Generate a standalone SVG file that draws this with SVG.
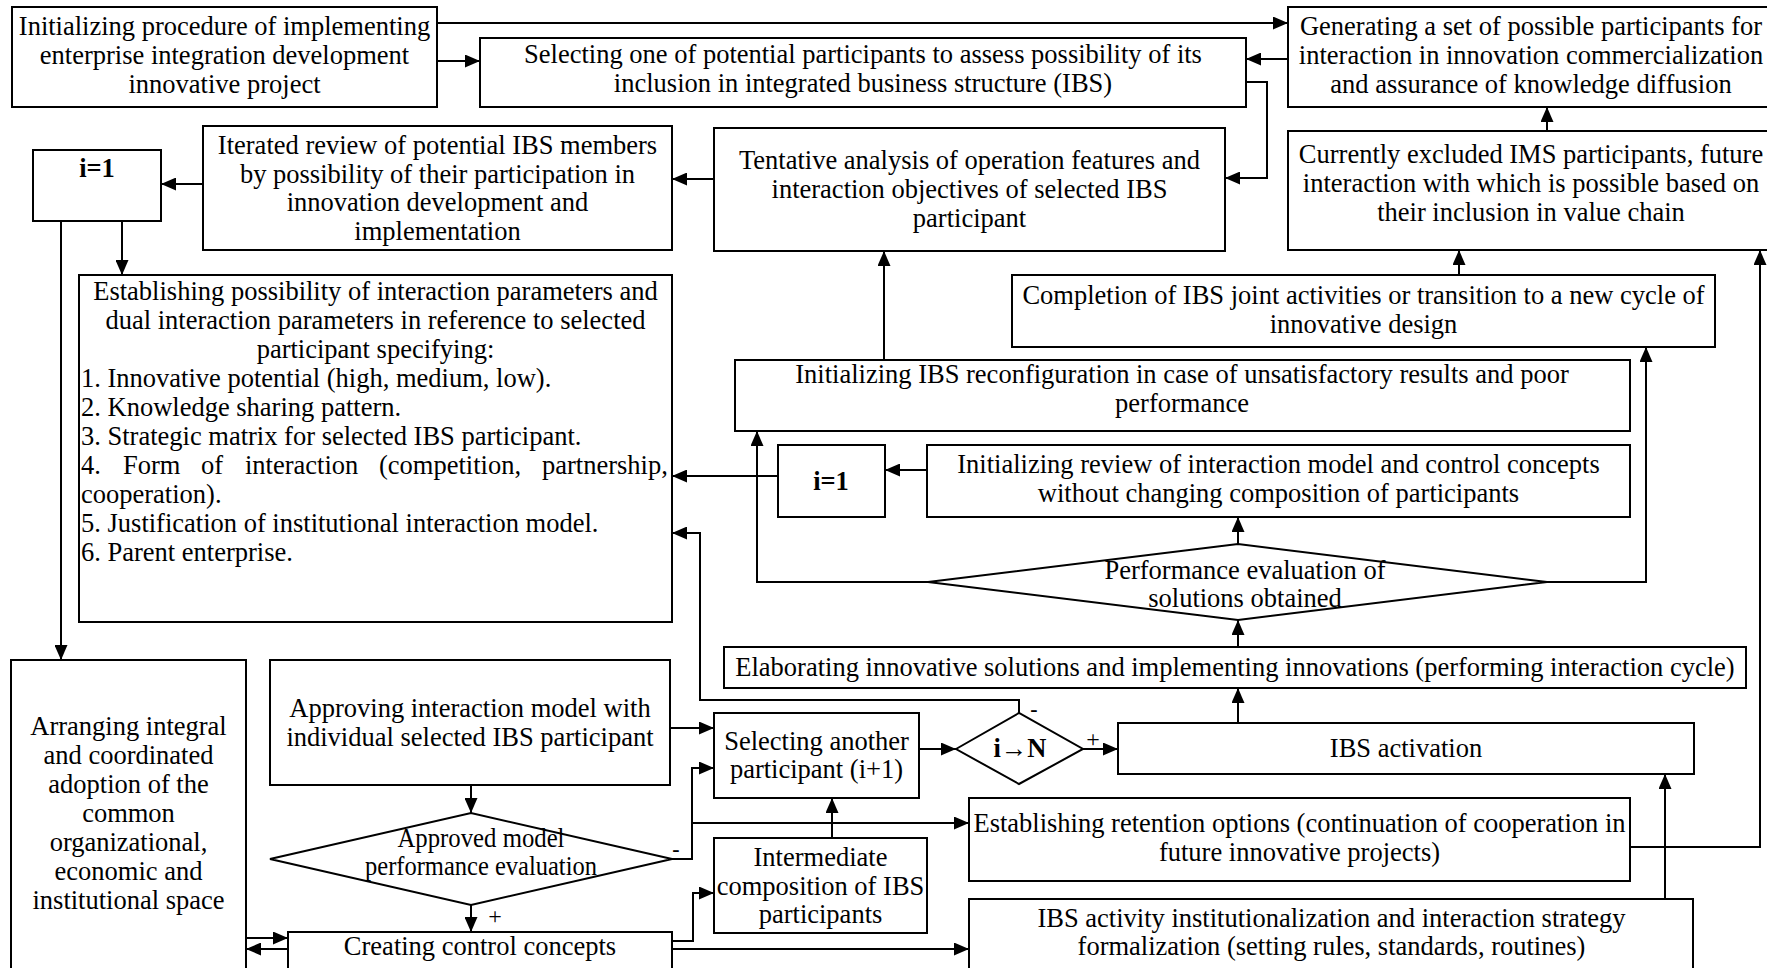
<svg xmlns="http://www.w3.org/2000/svg" width="1767" height="968" viewBox="0 0 1767 968">
<style>
.b{fill:#fff;stroke:#000;stroke-width:2}
.c{fill:none;stroke:#000;stroke-width:2;marker-end:url(#ah)}
.l{fill:none;stroke:#000;stroke-width:2}
text{font-family:"Liberation Serif","Times New Roman",serif;font-size:26.5px;fill:#000}
.m{text-anchor:middle}
.bd{font-weight:bold}
</style>
<defs>
<marker id="ah" markerUnits="userSpaceOnUse" markerWidth="15" markerHeight="13" refX="15" refY="6.5" orient="auto">
<path d="M0,0 L15,6.5 L0,13 z" fill="#000"/>
</marker>
</defs>
<rect width="1767" height="968" fill="#fff"/>
<g id="connectors">
<path class="c" d="M437,23 H1288"/>
<path class="c" d="M437,61 H480"/>
<path class="c" d="M1288,59 H1246"/>
<path class="c" d="M1246,82 H1267 V178 H1225"/>
<path class="c" d="M714,179 H672"/>
<path class="c" d="M203,184 H161"/>
<path class="c" d="M61,221 V660"/>
<path class="c" d="M122,221 V275"/>
<path class="c" d="M884,360 V251"/>
<path class="c" d="M1459,275 V250"/>
<path class="c" d="M1547,131 V107"/>
<path class="c" d="M1630,847 H1760 V250"/>
<path class="c" d="M1547,582 H1646 V347"/>
<path class="c" d="M928,582 H757 V431"/>
<path class="c" d="M1238,544 V517"/>
<path class="c" d="M927,470 H885"/>
<path class="c" d="M778,476 H672"/>
<path class="c" d="M1238,647 V620"/>
<path class="c" d="M1238,723 V688"/>
<path class="c" d="M1019,713 V700 H700 V533 H672"/>
<path class="c" d="M919,749 H956"/>
<path class="c" d="M1083,749 H1118"/>
<path class="c" d="M670,728 H714"/>
<path class="c" d="M672,859 H692 V768 H714"/>
<path class="c" d="M692,823 H969"/>
<path class="c" d="M832,838 V798"/>
<path class="c" d="M471,785 V813"/>
<path class="c" d="M471,905 V932"/>
<path class="c" d="M246,938 H288"/>
<path class="c" d="M288,949 H246"/>
<path class="c" d="M672,941 H693 V893 H714"/>
<path class="c" d="M672,949 H969"/>
<path class="c" d="M1665,899 V774"/>
<text x="676" y="856" class="m bd" style="font-size:22px">-</text>
<text x="495" y="924" class="m" style="font-size:24px">+</text>
<text x="1034" y="716" class="m bd" style="font-size:22px">-</text>
<text x="1093" y="747" class="m" style="font-size:24px">+</text>
</g>
<g id="n-init">
<rect class="b" x="12" y="7" width="425" height="100"/>
<text class="m" x="224.5" y="35">Initializing procedure of implementing</text>
<text class="m" x="224.5" y="64">enterprise integration development</text>
<text class="m" x="224.5" y="93">innovative project</text>
</g>
<g id="n-select">
<rect class="b" x="480" y="38" width="766" height="69"/>
<text class="m" x="863" y="63">Selecting one of potential participants to assess possibility of its</text>
<text class="m" x="863" y="92">inclusion in integrated business structure (IBS)</text>
</g>
<g id="n-generate">
<rect class="b" x="1288" y="7" width="490" height="100"/>
<text class="m" x="1531" y="35">Generating a set of possible participants for</text>
<text class="m" x="1531" y="64">interaction in innovation commercialization</text>
<text class="m" x="1531" y="93">and assurance of knowledge diffusion</text>
</g>
<g id="n-iterated">
<rect class="b" x="203" y="126" width="469" height="124"/>
<text class="m" x="437.5" y="154">Iterated review of potential IBS members</text>
<text class="m" x="437.5" y="183">by possibility of their participation in</text>
<text class="m" x="437.5" y="211">innovation development and</text>
<text class="m" x="437.5" y="240">implementation</text>
</g>
<g id="n-i1a">
<rect class="b" x="33" y="150" width="128" height="71"/>
<text class="m bd" x="97" y="177">i=1</text>
</g>
<g id="n-tentative">
<rect class="b" x="714" y="128" width="511" height="123"/>
<text class="m" x="969.5" y="169">Tentative analysis of operation features and</text>
<text class="m" x="969.5" y="198">interaction objectives of selected IBS</text>
<text class="m" x="969.5" y="227">participant</text>
</g>
<g id="n-excluded">
<rect class="b" x="1288" y="131" width="490" height="119"/>
<text class="m" x="1531" y="163">Currently excluded IMS participants, future</text>
<text class="m" x="1531" y="192">interaction with which is possible based on</text>
<text class="m" x="1531" y="221">their inclusion in value chain</text>
</g>
<g id="n-establish">
<rect class="b" x="79" y="275" width="593" height="347"/>
<text class="m" x="375.5" y="300">Establishing possibility of interaction parameters and</text>
<text class="m" x="375.5" y="329">dual interaction parameters in reference to selected</text>
<text class="m" x="375.5" y="358">participant specifying:</text>
<text x="81" y="387">1. Innovative potential (high, medium, low).</text>
<text x="81" y="416">2. Knowledge sharing pattern.</text>
<text x="81" y="445">3. Strategic matrix for selected IBS participant.</text>
<text y="474"><tspan x="81">4.</tspan><tspan x="123">Form</tspan><tspan x="201">of</tspan><tspan x="245">interaction</tspan><tspan x="379">(competition,</tspan><tspan x="542">partnership,</tspan></text>
<text x="81" y="503">cooperation).</text>
<text x="81" y="532">5. Justification of institutional interaction model.</text>
<text x="81" y="561">6. Parent enterprise.</text>
</g>
<g id="n-completion">
<rect class="b" x="1012" y="275" width="703" height="72"/>
<text class="m" x="1363.5" y="304">Completion of IBS joint activities or transition to a new cycle of</text>
<text class="m" x="1363.5" y="333">innovative design</text>
</g>
<g id="n-reconf">
<rect class="b" x="735" y="360" width="895" height="71"/>
<text class="m" x="1182" y="383">Initializing IBS reconfiguration in case of unsatisfactory results and poor</text>
<text class="m" x="1182" y="412">performance</text>
</g>
<g id="n-i1b">
<rect class="b" x="778" y="445" width="107" height="72"/>
<text class="m bd" x="831" y="490">i=1</text>
</g>
<g id="n-review">
<rect class="b" x="927" y="445" width="703" height="72"/>
<text class="m" x="1278.5" y="473">Initializing review of interaction model and control concepts</text>
<text class="m" x="1278.5" y="502">without changing composition of participants</text>
</g>
<g id="n-perf">
<polygon class="b" points="928,582 1238,544 1547,582 1238,620"/>
<text class="m" x="1245" y="579">Performance evaluation of</text>
<text class="m" x="1245" y="607">solutions obtained</text>
</g>
<g id="n-elab">
<rect class="b" x="724" y="647" width="1022" height="41"/>
<text class="m" x="1235" y="676">Elaborating innovative solutions and implementing innovations (performing interaction cycle)</text>
</g>
<g id="n-arrange">
<rect class="b" x="11" y="660" width="235" height="330"/>
<text class="m" x="128.5" y="735">Arranging integral</text>
<text class="m" x="128.5" y="764">and coordinated</text>
<text class="m" x="128.5" y="793">adoption of the</text>
<text class="m" x="128.5" y="822">common</text>
<text class="m" x="128.5" y="851">organizational,</text>
<text class="m" x="128.5" y="880">economic and</text>
<text class="m" x="128.5" y="909">institutional space</text>
</g>
<g id="n-approve">
<rect class="b" x="270" y="660" width="400" height="125"/>
<text class="m" x="470" y="717">Approving interaction model with</text>
<text class="m" x="470" y="746">individual selected IBS participant</text>
</g>
<g id="n-selanother">
<rect class="b" x="714" y="713" width="205" height="85"/>
<text class="m" x="816.5" y="750">Selecting another</text>
<text class="m" x="816.5" y="778">participant (i+1)</text>
</g>
<g id="n-iN">
<polygon class="b" points="956,749 1019,713 1083,749 1019,784"/>
<text class="m bd" x="1020" y="757">i→N</text>
</g>
<g id="n-activation">
<rect class="b" x="1118" y="723" width="576" height="51"/>
<text class="m" x="1406" y="757">IBS activation</text>
</g>
<g id="n-retention">
<rect class="b" x="969" y="798" width="661" height="83"/>
<text class="m" x="1299.5" y="832">Establishing retention options (continuation of cooperation in</text>
<text class="m" x="1299.5" y="861">future innovative projects)</text>
</g>
<g id="n-approved">
<polygon class="b" points="270,859 471,813 672,859 471,905"/>
<text class="m" x="481" y="847" textLength="167" lengthAdjust="spacingAndGlyphs">Approved model</text>
<text class="m" x="481" y="875" textLength="232" lengthAdjust="spacingAndGlyphs">performance evaluation</text>
</g>
<g id="n-intermediate">
<rect class="b" x="714" y="838" width="213" height="95"/>
<text class="m" x="820.5" y="866">Intermediate</text>
<text class="m" x="820.5" y="895">composition of IBS</text>
<text class="m" x="820.5" y="923">participants</text>
</g>
<g id="n-creating">
<rect class="b" x="288" y="932" width="384" height="60"/>
<text class="m" x="480" y="955">Creating control concepts</text>
</g>
<g id="n-inst">
<rect class="b" x="969" y="899" width="724" height="90"/>
<text class="m" x="1331.5" y="927">IBS activity institutionalization and interaction strategy</text>
<text class="m" x="1331.5" y="955">formalization (setting rules, standards, routines)</text>
</g>
</svg>
